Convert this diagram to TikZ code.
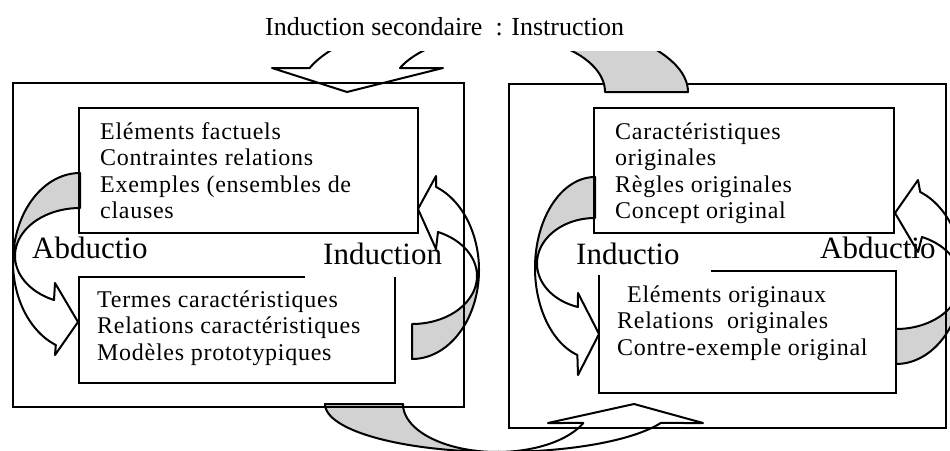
\documentclass[tikz,border=0pt]{standalone}
\usepackage{fontspec}
\setmainfont{Liberation Serif}
\tikzset{
  boxframe/.style={line width=2pt},
  band/.style={line width=2pt, line join=round},
  backband/.style={band, fill=gray!35},
  frontband/.style={band, fill=white},
  boxtext/.style={anchor=base west, inner sep=0pt, font=\fontsize{24}{26}\selectfont\addfontfeature{LetterSpace=3}},
  biglabel/.style={anchor=base west, inner sep=0pt, font=\fontsize{31}{34}\selectfont},
}
\begin{document}
\begin{tikzpicture}[x=1pt, y=-1pt, variable=\t, samples=40]
\clip (0,0) rectangle (950,450);

% lower arrow, left frame -> right frame
\filldraw[backband] plot[domain=180:90] ({500+175*cos(\t)},{404+48*sin(\t)})
  -- plot[domain=90:180] ({497+94*cos(\t)},{404+48*sin(\t)}) -- cycle;
\filldraw[frontband] plot[domain=90:23.3] ({500+175*cos(\t)},{404+48*sin(\t)})
  -- (703,423) -- (634,404) -- (548,423)
  -- plot[domain=23.3:90] ({497+94*cos(\t)},{404+48*sin(\t)}) -- cycle;

% Abductio, left frame
\filldraw[backband] plot[domain=270:180] ({80+67*cos(\t)},{262+89*sin(\t)})
  -- plot[domain=180:270] ({80+65*cos(\t)},{256+48*sin(\t)}) -- cycle;
\filldraw[frontband] plot[domain=180:111.15] ({80+67*cos(\t)},{262+89*sin(\t)})
  -- (55,355) -- (78,322) -- (55,283)
  -- plot[domain=113.56:180] ({80+65*cos(\t)},{256+48*sin(\t)}) -- cycle;

% Induction, left frame
\filldraw[backband] plot[domain=90:0] ({412+67*cos(\t)},{270+89*sin(\t)})
  -- plot[domain=0:90] ({412+65*cos(\t)},{276+48*sin(\t)}) -- cycle;
\filldraw[frontband] plot[domain=0:-68.85] ({412+67*cos(\t)},{270+89*sin(\t)})
  -- (436,176) -- (418,209) -- (436,249)
  -- plot[domain=-66.44:0] ({412+65*cos(\t)},{276+48*sin(\t)}) -- cycle;

% Inductio, right frame
\filldraw[backband] plot[domain=270:180] ({595+60*cos(\t)},{268+91*sin(\t)})
  -- plot[domain=180:270] ({595+58*cos(\t)},{263.5+45.5*sin(\t)}) -- cycle;
\filldraw[frontband] plot[domain=180:107.1] ({595+60*cos(\t)},{268+91*sin(\t)})
  -- (578,375) -- (599,334) -- (578,293)
  -- plot[domain=107.1:180] ({595+58*cos(\t)},{263.5+45.5*sin(\t)}) -- cycle;

% Abductio, right frame
\filldraw[backband] plot[domain=90:0] ({896+67*cos(\t)},{275+89*sin(\t)})
  -- plot[domain=0:90] ({896+65*cos(\t)},{281+48*sin(\t)}) -- cycle;
\filldraw[frontband] plot[domain=0:-68.85] ({896+67*cos(\t)},{275+89*sin(\t)})
  -- (918,180) -- (895,213) -- (918,252)
  -- plot[domain=-66.44:0] ({896+65*cos(\t)},{281+48*sin(\t)}) -- cycle;

% right frame
\draw[boxframe] (509,84) rectangle (946,428);

% upper arrow, right frame -> left frame
\begin{scope}
  \clip (0,51) rectangle (950,450);
  \filldraw[backband] plot[domain=360:270] ({494+194*cos(\t)},{92+77*sin(\t)})
    -- plot[domain=270:360] ({497.5+107.5*cos(\t)},{92+57*sin(\t)}) -- cycle;
  \filldraw[frontband] plot[domain=270:198.16] ({494+194*cos(\t)},{92+77*sin(\t)})
    -- (272,68) -- (347,92) -- (443,68)
    -- plot[domain=204.9:270] ({497.5+107.5*cos(\t)},{92+57*sin(\t)}) -- cycle;
\end{scope}

% left frame
\draw[boxframe] (13,83) rectangle (464,407);

% inner boxes
\draw[boxframe] (79,108) rectangle (418,233);
\draw[boxframe] (305,277) -- (79,277) -- (79,383) -- (395,383) -- (395,277);
\draw[boxframe] (594,108) rectangle (894,233);
\draw[boxframe] (711,271) -- (896,271) -- (896,393) -- (599,393) -- (599,275);

% texts
\node[boxtext] (factuels) at (100,139) {Eléments factuels};
\node[boxtext] (contraintes) at (100,165.5) {Contraintes relations};
\node[boxtext] (exemples) at (100,192) {Exemples (ensembles de};
\node[boxtext] (clauses) at (100,218.5) {clauses};
\node[boxtext] (termes) at (97,307) {Termes caractéristiques};
\node[boxtext] (relcar) at (97,333.5) {Relations caractéristiques};
\node[boxtext] (modeles) at (97,360) {Modèles prototypiques};
\node[boxtext] (carorig) at (615,139) {Caractéristiques};
\node[boxtext] (originales) at (615,165.5) {originales};
\node[boxtext] (regles) at (615,192) {Règles originales};
\node[boxtext] (concept) at (615,218.5) {Concept original};
\node[boxtext] (elemorig) at (627,302) {Eléments originaux};
\node[boxtext] (relorig) at (617,328.5) {Relations\ \ originales};
\node[boxtext] (contre) at (617,355) {Contre-exemple original};

\node[biglabel] (abdleft) at (32,258) {Abductio};
\node[biglabel] (indleft) at (323,264) {Induction};
\node[biglabel] (indright) at (576,264) {Inductio};
\node[biglabel] (abdright) at (820,258) {Abductio};

\node[anchor=base west, inner sep=0pt, font=\fontsize{26}{29}\selectfont] (title) at (265,35) {Induction secondaire\ \ : Instruction};
\end{tikzpicture}
\end{document}
